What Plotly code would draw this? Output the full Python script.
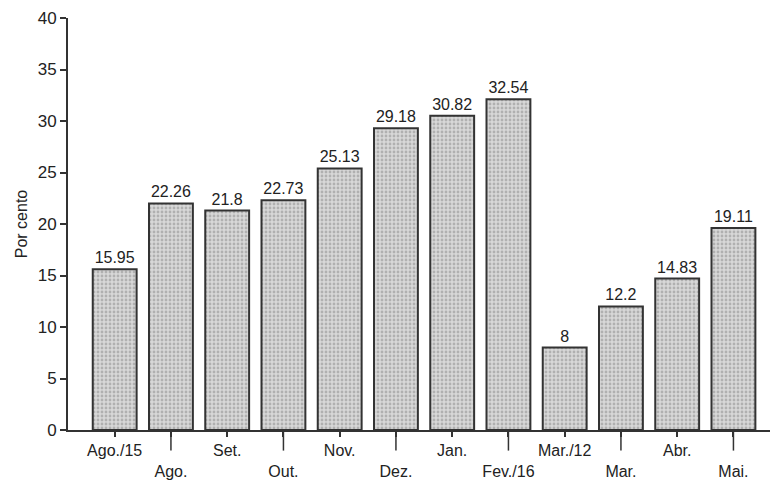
import plotly.graph_objects as go

months = ["Ago./15", "Ago.", "Set.", "Out.", "Nov.", "Dez.", "Jan.", "Fev./16",
          "Mar./12", "Mar.", "Abr.", "Mai."]
values = [15.95, 22.26, 21.8, 22.73, 25.13, 29.18, 30.82, 32.54, 8, 12.2, 14.83, 19.11]
heights = [15.6, 22.0, 21.3, 22.3, 25.4, 29.3, 30.5, 32.1, 8.0, 12.0, 14.7, 19.6]

x = list(range(len(months)))
ticktext = [m if i % 2 == 0 else "<br>" + m for i, m in enumerate(months)]

fig = go.Figure(go.Bar(
    x=x, y=heights, text=[str(v) for v in values], textposition="outside",
    textfont=dict(size=16, color="#222"), cliponaxis=False,
    width=0.78,
    marker=dict(color="#d0d0d0", line=dict(color="#333", width=2),
                pattern=dict(shape=".", fgcolor="#888", bgcolor="#d8d8d8", size=4, solidity=0.4)),
))

# long ticks under the staggered labels
for i in x[1::2]:
    fig.add_shape(type="line", xref="x", yref="paper", x0=i, x1=i, y0=0, y1=-0.05,
                  line=dict(color="#333", width=1.5))

fig.update_layout(
    width=778, height=486, margin=dict(l=60, r=16, t=10, b=64),
    paper_bgcolor="white", plot_bgcolor="white", showlegend=False,
    font=dict(family="Liberation Sans, Arial", size=16, color="#222"),
    xaxis=dict(range=[-0.83, 11.65], tickvals=x, ticktext=ticktext, showline=True,
               linecolor="#333", linewidth=2, ticks="outside", ticklen=5, automargin=False,
               tickangle=0, tickcolor="#333", tickwidth=1.5, showgrid=False,
               tickfont=dict(size=16)),
    yaxis=dict(range=[0, 40], dtick=5, showline=True, linecolor="#333", linewidth=2,
               ticks="outside", ticklen=6, tickcolor="#333", tickwidth=1.5, automargin=False,
               showgrid=False, zeroline=False,
               title=dict(text="Por cento", standoff=6, font=dict(size=16)),
               tickfont=dict(size=17)),
)
fig.write_html("out.html")
